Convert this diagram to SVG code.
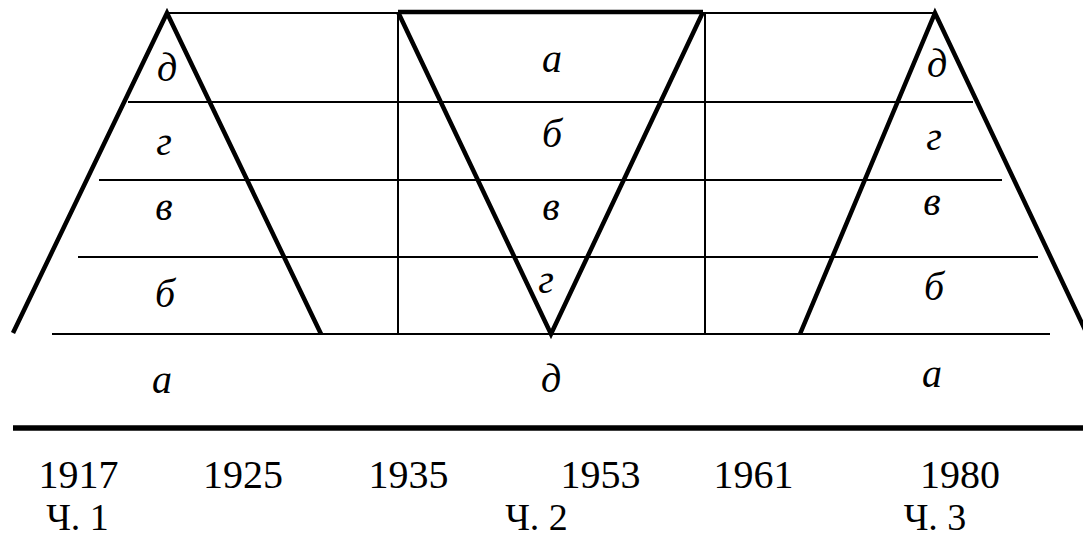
<svg xmlns="http://www.w3.org/2000/svg" width="1083" height="539" viewBox="0 0 1083 539">
<style>
.thin{stroke:#000;stroke-width:2;fill:none}
.thick{stroke:#000;stroke-width:4.5;fill:none;stroke-linecap:butt;stroke-linejoin:miter}
.base{stroke:#000;stroke-width:5.5;fill:none}
.lbl{font-family:"Liberation Serif","Times New Roman",serif;font-style:italic;font-size:40px;text-anchor:middle;fill:#000}
.yr{font-family:"Liberation Serif","Times New Roman",serif;font-size:40px;text-anchor:middle;fill:#000}
.pt{font-family:"Liberation Serif","Times New Roman",serif;font-size:38px;text-anchor:middle;fill:#000}
</style>
<rect width="1083" height="539" fill="#fff"/>
<g id="grid">
<line class="thin" x1="167" y1="13" x2="935" y2="13"/>
<line class="thin" x1="128" y1="102" x2="973" y2="102"/>
<line class="thin" x1="99" y1="180" x2="1002" y2="180"/>
<line class="thin" x1="78" y1="257" x2="1038" y2="257"/>
<line class="thin" x1="52" y1="334" x2="1050" y2="334"/>
<line class="thin" x1="398" y1="13" x2="398" y2="334"/>
<line class="thin" x1="705" y1="13" x2="705" y2="334"/>
<line class="base" x1="13" y1="428" x2="1083" y2="428"/>
</g>
<g id="shape1">
<polyline class="thick" points="13,333 167,13 321,334"/>
</g>
<g id="shape2">
<polyline class="thick" points="398,12 551,334 703,12"/>
<line class="thick" x1="398" y1="12" x2="703" y2="12"/>
</g>
<g id="shape3">
<polyline class="thick" points="800,334 935,13 1088,336"/>
</g>
<g id="labels1">
<text class="lbl" x="167" y="81">д</text>
<text class="lbl" x="164" y="155">г</text>
<text class="lbl" x="164" y="220">в</text>
<text class="lbl" x="165" y="307">б</text>
<text class="lbl" x="162" y="393">а</text>
</g>
<g id="labels2">
<text class="lbl" x="552" y="72">а</text>
<text class="lbl" x="552" y="147">б</text>
<text class="lbl" x="551" y="220">в</text>
<text class="lbl" x="546" y="293">г</text>
<text class="lbl" x="551" y="392">д</text>
</g>
<g id="labels3">
<text class="lbl" x="937" y="77">д</text>
<text class="lbl" x="934" y="150">г</text>
<text class="lbl" x="932" y="215">в</text>
<text class="lbl" x="934" y="300">б</text>
<text class="lbl" x="932" y="387">а</text>
</g>
<g id="years">
<text class="yr" x="78.5" y="488">1917</text>
<text class="yr" x="243" y="488">1925</text>
<text class="yr" x="408.5" y="488">1935</text>
<text class="yr" x="600.5" y="488">1953</text>
<text class="yr" x="753.5" y="488">1961</text>
<text class="yr" x="960" y="488">1980</text>
<text class="pt" x="77.5" y="530">Ч. 1</text>
<text class="pt" x="536.5" y="530">Ч. 2</text>
<text class="pt" x="935" y="530">Ч. 3</text>
</g>
</svg>
